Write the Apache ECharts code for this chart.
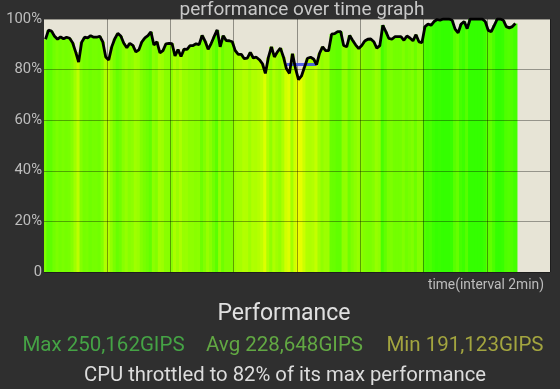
<!DOCTYPE html>
<html>
<head>
<meta charset="utf-8">
<script src="https://cdn.jsdelivr.net/npm/echarts@6/dist/echarts.min.js"></script>
<style>
html,body{margin:0;padding:0;background:#2f2f2f;}
#c{width:560px;height:389px;}
</style>
</head>
<body>
<div id="c"></div>
<script>
// time slots across the axis (8 intervals of 2 min, 21 slots each)
var slotCount = 168;
var slotsPerInterval = 21;
// performance in % of max, one value per slot
var performance = [
92,95.6,95.2,93.2,92,92.9,92.2,92.8,92.4,90.6,
87,83,90.8,92.8,92.5,93.4,92.8,92.8,93.2,91,
85,83.8,89,92.2,94.3,93.3,90.4,88.6,90.4,89.6,
87,87.8,91,92.5,93.4,94.9,89.7,91,86.6,87.5,
90.2,90.4,90.3,85.4,87.9,85.2,88.1,88,89.5,89.5,
90.2,89.9,93.5,91.2,88,90.3,93.1,95.7,89,93.4,
91.5,91.4,91,87.5,86,86,84.3,84.5,86.8,84.6,
84.9,83.9,82.4,78.5,84.8,89,85,87,88.5,85,
80.3,78.5,86.3,80.5,76,77.5,81,84.5,84.9,84.2,
82,86.5,89,87.5,87.5,94,94.2,95,95,89.5,
89,93.5,91.5,89.7,88.3,89.5,91.3,92,92.1,91,
88.5,89.5,97.5,95,92.3,92,93,93,93,91.6,
93.3,92.5,91.4,93.8,91,90.7,97,98,97.5,99,
99.8,99.5,100,100,100,99.5,96,94.5,98,99,
96.2,100,100,100,100,100,99,95.5,95,97.5,
100,100,99.5,97,96.5,97,98.2
];
// throttled level marker
var throttleRange = [80, 90];
var throttleLevel = 82;
// y tick labels
var yTicks = [0, 20, 40, 60, 80, 100];
var yTickLabels = ['0', '20%', '40%', '60%', '80%', '100%'];

var titleText = 'performance over time graph';
var xName = 'time(interval 2min)';
var heading = 'Performance';
var maxText = 'Max 250,162GIPS';
var avgText = 'Avg 228,648GIPS';
var minText = 'Min 191,123GIPS';
var note = 'CPU throttled to 82% of its max performance';

var categories = [];
for (var i = 0; i < slotCount; i++) categories.push(String(i));

var chart = echarts.init(document.getElementById('c'), null, {renderer: 'canvas'});
var font = 'Roboto';
chart.setOption({
  backgroundColor: '#2f2f2f',
  animation: false,
  title: [
    {text: titleText, left: 297, top: -4, textAlign: 'center',
     textStyle: {color: '#c8c8c8', fontSize: 19, fontWeight: 'normal', fontFamily: font}},
    {text: xName, right: 11, top: 274,
     textStyle: {color: '#bdbdbd', fontSize: 13.8, fontWeight: 'normal', fontFamily: font}},
    {text: heading, left: 279, top: 298, textAlign: 'center',
     textStyle: {color: '#e0e0e0', fontSize: 23, fontWeight: 'normal', fontFamily: font}},
    {text: maxText, left: 98.5, top: 330, textAlign: 'center',
     textStyle: {color: '#45a345', fontSize: 20.5, fontWeight: 'normal', fontFamily: font}},
    {text: avgText, left: 279.5, top: 330, textAlign: 'center',
     textStyle: {color: '#62a843', fontSize: 20.5, fontWeight: 'normal', fontFamily: font}},
    {text: minText, left: 460, top: 330, textAlign: 'center',
     textStyle: {color: '#a3a53f', fontSize: 20.5, fontWeight: 'normal', fontFamily: font}},
    {text: note, left: 280, top: 361, textAlign: 'center',
     textStyle: {color: '#dcdcdc', fontSize: 20.3, fontWeight: 'normal', fontFamily: font}}
  ],
  grid: {left: 44, right: 10, top: 19, bottom: 117, show: true,
         backgroundColor: '#e7e4d6', borderWidth: 0},
  visualMap: {
    type: 'continuous', show: false, seriesIndex: 0, dimension: 1,
    min: 76, max: 100,
    inRange: {color: ['#f0ff00', '#b4ff00', '#7cff00', '#34ff00']}
  },
  xAxis: {
    type: 'category', data: categories, boundaryGap: true, z: 3,
    axisLine: {show: false}, axisTick: {show: false}, axisLabel: {show: false},
    splitLine: {show: true,
      interval: function (idx) { return idx > 0 && idx % slotsPerInterval === 0; },
      lineStyle: {color: 'rgba(0,0,0,0.38)', width: 1}}
  },
  yAxis: {
    type: 'value', min: 0, max: 100, interval: 20, z: 3,
    axisLine: {show: false}, axisTick: {show: false},
    axisLabel: {color: '#bdbdbd', fontSize: 14.8, fontFamily: font, margin: 2,
      formatter: function (v) { return yTickLabels[yTicks.indexOf(v)]; }},
    splitLine: {show: true, lineStyle: {color: 'rgba(0,0,0,0.35)', width: 1}}
  },
  series: [
    {type: 'bar', data: performance, barWidth: 4.2, barGap: '-100%', z: 2,
     itemStyle: {borderWidth: 0}},
    {type: 'line', data: [[throttleRange[0], throttleLevel], [throttleRange[1], throttleLevel]],
     showSymbol: false, z: 4, lineStyle: {color: '#3b4cf0', width: 3, opacity: 0.85}},
    {type: 'line', data: performance, showSymbol: false, z: 5,
     lineStyle: {color: '#000000', width: 2.8}}
  ]
});
</script>
</body>
</html>
